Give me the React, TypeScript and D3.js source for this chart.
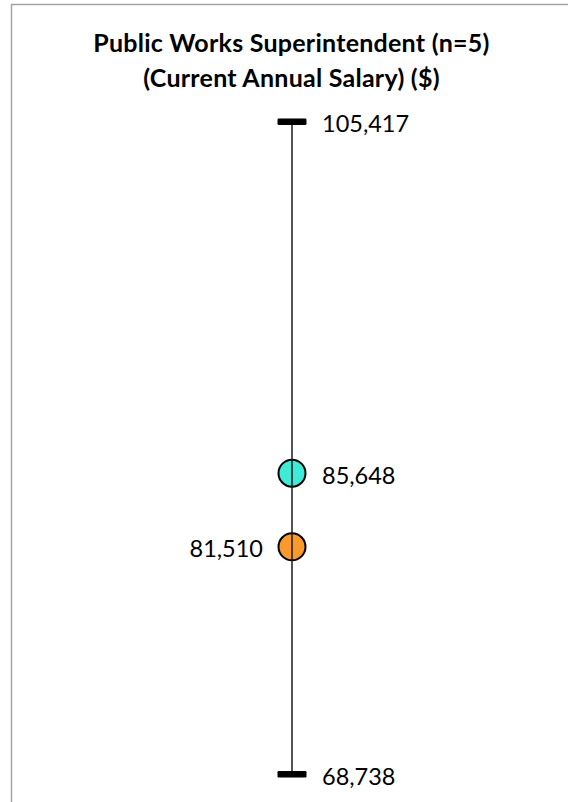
import React from "react";
import * as d3 from "d3";

// Salary summary for the position
const titleLines = ["Public Works Superintendent (n=5)", "(Current Annual Salary) ($)"];
const rangeStats = ["Maximum", "Minimum"];
const rangeValues = [105417, 68738];
const pointStats = ["Average", "Median"];
const pointValues = [85648, 81510];
const pointColors = ["#3FEBD6", "#FA9A2C"];
const pointLabelSide = ["right", "left"];

const W = 568;
const H = 802;
const cx = 292;

export default function App() {
  const y = d3
    .scaleLinear()
    .domain([d3.min(rangeValues)!, d3.max(rangeValues)!])
    .range([774, 121.5]);
  const fmt = d3.format(",");
  const labelFont = "Lato, 'Open Sans', sans-serif";

  return (
    <svg
      width={W}
      height={H}
      style={{ position: "absolute", left: 0, top: 0, background: "#fff" }}
    >
      <rect x={11.5} y={4.5} width={700} height={900} fill="#fff" stroke="#a3a3a3" strokeWidth={1.5} />
      {titleLines.map((t, i) => (
        <text
          key={t}
          x={291.5}
          y={52 + i * 34.5}
          textAnchor="middle"
          fontFamily={labelFont}
          fontWeight={700}
          fontSize={25}
          letterSpacing={0.25}
          fill="#000"
        >
          {t}
        </text>
      ))}

      {pointValues.map((v, i) => (
        <circle
          key={pointStats[i]}
          cx={cx}
          cy={y(v)}
          r={13.5}
          fill={pointColors[i]}
          stroke="#000"
          strokeWidth={2}
        />
      ))}

      <line
        x1={cx}
        x2={cx}
        y1={y(d3.max(rangeValues)!)}
        y2={y(d3.min(rangeValues)!)}
        stroke="#1a1a1a"
        strokeWidth={1.5}
      />

      {rangeValues.map((v, i) => (
        <g key={rangeStats[i]}>
          <rect x={cx - 14.5} y={y(v) - 3} width={29} height={6.5} rx={1.2} fill="#000" />
          <text
            x={322}
            y={y(v)}
            dy="0.45em"
            fontFamily={labelFont}
            fontSize={23.5}
            fill="#000"
          >
            {fmt(v)}
          </text>
        </g>
      ))}

      {pointValues.map((v, i) => (
        <text
          key={pointStats[i] + "-label"}
          x={pointLabelSide[i] === "right" ? 322 : 263}
          y={y(v)}
          dy="0.45em"
          textAnchor={pointLabelSide[i] === "right" ? "start" : "end"}
          fontFamily={labelFont}
          fontSize={23.5}
          fill="#000"
        >
          {fmt(v)}
        </text>
      ))}
    </svg>
  );
}
